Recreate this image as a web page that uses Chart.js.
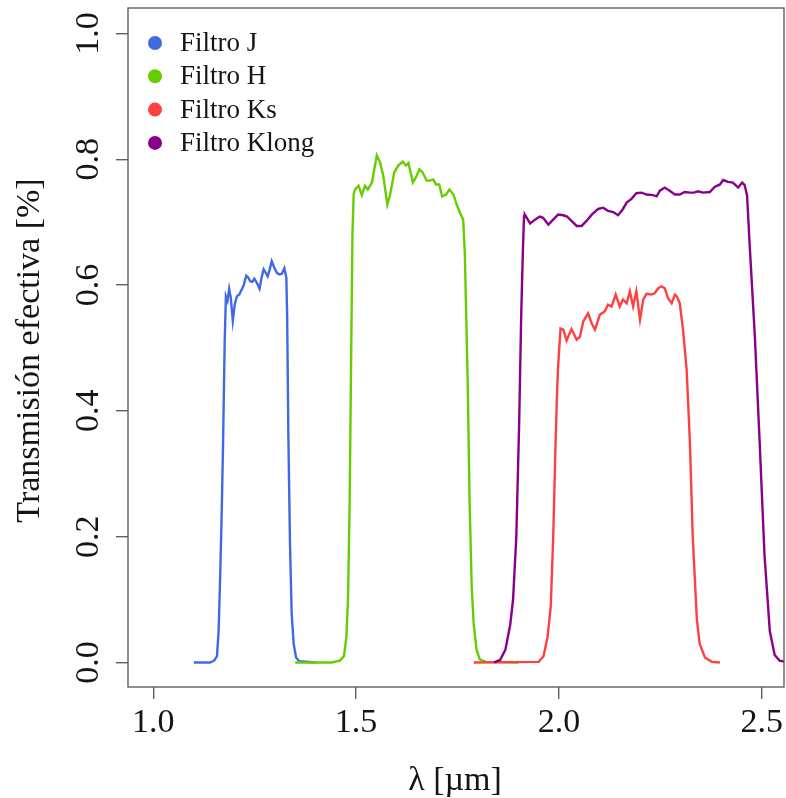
<!DOCTYPE html>
<html>
<head>
<meta charset="utf-8">
<script src="https://cdn.jsdelivr.net/npm/chart.js@4/dist/chart.umd.min.js"></script>
<style>
  html, body { margin: 0; padding: 0; background: #ffffff; }
  #wrap { width: 786px; height: 798px; position: relative; }
</style>
</head>
<body>
<div id="wrap"><canvas id="c" width="786" height="798"></canvas></div>
<script>
// ---- Data ----
const seriesNames = ['Filtro J', 'Filtro H', 'Filtro Ks', 'Filtro Klong'];
const seriesColors = ['#4169E1', '#66CD00', '#FF4040', '#8B008B'];

const jWave = [1.100,1.140,1.150,1.157,1.161,1.165,1.169,1.172,1.176,1.179,1.183,1.187,1.191,1.196,1.201,1.206,1.212,1.218,1.223,1.229,1.234,1.239,1.244,1.249,1.255,1.262,1.267,1.272,1.277,1.282,1.287,1.292,1.298,1.305,1.311,1.317,1.323,1.328,1.330,1.333,1.337,1.341,1.346,1.352,1.360,1.400];
const jTrans = [0.000,0.000,0.003,0.010,0.050,0.140,0.250,0.350,0.510,0.582,0.575,0.594,0.580,0.543,0.570,0.582,0.585,0.593,0.600,0.615,0.612,0.606,0.605,0.610,0.604,0.594,0.612,0.625,0.620,0.614,0.625,0.638,0.628,0.619,0.617,0.618,0.627,0.612,0.550,0.360,0.190,0.080,0.030,0.008,0.002,0.000];

const hWave = [1.350,1.440,1.460,1.470,1.476,1.480,1.484,1.488,1.491,1.494,1.4975,1.506,1.514,1.522,1.529,1.539,1.551,1.559,1.567,1.577,1.584,1.594,1.604,1.615,1.623,1.629,1.640,1.648,1.656,1.664,1.674,1.682,1.690,1.697,1.705,1.712,1.722,1.730,1.740,1.748,1.756,1.764,1.768,1.775,1.780,1.785,1.790,1.797,1.805,1.820,1.900];
const hTrans = [0.000,0.000,0.003,0.010,0.040,0.100,0.250,0.500,0.680,0.745,0.752,0.758,0.743,0.758,0.752,0.763,0.806,0.795,0.774,0.728,0.744,0.779,0.790,0.796,0.790,0.794,0.763,0.772,0.784,0.779,0.766,0.766,0.768,0.760,0.760,0.741,0.744,0.752,0.744,0.728,0.715,0.704,0.652,0.450,0.250,0.120,0.060,0.020,0.005,0.001,0.000];

const ksWave = [1.790,1.950,1.962,1.972,1.980,1.986,1.991,1.995,1.998,2.004,2.011,2.019,2.031,2.044,2.052,2.060,2.072,2.081,2.089,2.101,2.113,2.121,2.130,2.140,2.150,2.158,2.167,2.175,2.183,2.191,2.200,2.208,2.216,2.228,2.236,2.245,2.253,2.261,2.269,2.278,2.286,2.291,2.298,2.306,2.315,2.323,2.330,2.340,2.347,2.360,2.377,2.397];
const ksTrans = [0.000,0.001,0.010,0.040,0.090,0.200,0.330,0.420,0.470,0.531,0.529,0.512,0.530,0.513,0.518,0.542,0.555,0.539,0.529,0.553,0.558,0.569,0.566,0.585,0.566,0.577,0.571,0.590,0.566,0.590,0.545,0.577,0.586,0.585,0.587,0.595,0.598,0.595,0.579,0.571,0.585,0.582,0.571,0.529,0.465,0.350,0.200,0.070,0.030,0.008,0.001,0.000];

const klWave = [1.840,1.855,1.868,1.880,1.887,1.895,1.902,1.907,1.911,1.914,1.916,1.929,1.941,1.953,1.961,1.974,1.986,1.998,2.011,2.020,2.031,2.044,2.056,2.068,2.081,2.097,2.109,2.121,2.134,2.146,2.158,2.167,2.179,2.191,2.204,2.216,2.232,2.241,2.249,2.261,2.273,2.286,2.298,2.310,2.323,2.333,2.343,2.355,2.372,2.384,2.397,2.405,2.417,2.429,2.442,2.452,2.458,2.464,2.470,2.483,2.495,2.507,2.520,2.532,2.544,2.569];
const klTrans = [0.000,0.004,0.020,0.060,0.100,0.200,0.380,0.550,0.650,0.710,0.712,0.698,0.704,0.709,0.707,0.696,0.704,0.712,0.711,0.709,0.702,0.694,0.694,0.702,0.712,0.721,0.723,0.718,0.716,0.711,0.721,0.731,0.737,0.746,0.747,0.744,0.743,0.741,0.750,0.755,0.750,0.744,0.744,0.748,0.747,0.747,0.749,0.747,0.748,0.756,0.760,0.767,0.764,0.763,0.755,0.763,0.759,0.742,0.668,0.520,0.350,0.170,0.050,0.012,0.003,0.000];

const xTickValues = [1.0, 1.5, 2.0, 2.5];
const xTickLabels = ['1.0', '1.5', '2.0', '2.5'];
const yTickValues = [0.0, 0.2, 0.4, 0.6, 0.8, 1.0];
const yTickLabels = ['0.0', '0.2', '0.4', '0.6', '0.8', '1.0'];
const xTitle = 'λ [µm]';
const yTitle = 'Transmisión efectiva [%]';

// ---- Build datasets ----
const waves = [jWave, hWave, ksWave, klWave];
const trans = [jTrans, hTrans, ksTrans, klTrans];
const datasets = seriesNames.map((name, i) => ({
  label: name,
  data: waves[i].map((w, k) => ({ x: w, y: trans[i][k] })),
  borderColor: seriesColors[i],
  backgroundColor: seriesColors[i],
  borderWidth: 2.4,
  pointRadius: 0,
  tension: 0,
  fill: false,
  order: 4 - i
}));

const SERIF = '"Liberation Serif", "DejaVu Serif", serif';
const TEXT = '#151515';
const AXIS = '#606060';

const decorations = {
  id: 'decorations',
  afterDraw(chart) {
    const ctx = chart.ctx;
    const a = chart.chartArea;
    const xs = chart.scales.x, ys = chart.scales.y;
    ctx.save();
    // box
    ctx.strokeStyle = AXIS;
    ctx.lineWidth = 1.4;
    ctx.strokeRect(a.left, a.top, a.right - a.left, a.bottom - a.top);

    // x tick labels
    ctx.fillStyle = TEXT;
    ctx.font = '34px ' + SERIF;
    ctx.textAlign = 'center';
    ctx.textBaseline = 'alphabetic';
    xTickValues.forEach((v, i) => {
      ctx.fillText(xTickLabels[i], xs.getPixelForValue(v), 732);
    });
    // y tick labels (rotated)
    yTickValues.forEach((v, i) => {
      ctx.save();
      ctx.translate(98, ys.getPixelForValue(v));
      ctx.rotate(-Math.PI / 2);
      ctx.textAlign = 'center';
      ctx.textBaseline = 'alphabetic';
      ctx.fillText(yTickLabels[i], 0, 0);
      ctx.restore();
    });
    // x title
    ctx.textAlign = 'center';
    ctx.fillText(xTitle, (a.left + a.right) / 2 - 1, 790);
    // y title
    ctx.save();
    ctx.translate(39, (a.top + a.bottom) / 2 + 3);
    ctx.rotate(-Math.PI / 2);
    ctx.textAlign = 'center';
    ctx.fillText(yTitle, 0, 0);
    ctx.restore();

    // legend
    ctx.font = '27px ' + SERIF;
    ctx.textAlign = 'left';
    ctx.textBaseline = 'middle';
    seriesNames.forEach((name, i) => {
      const cy = 43 + i * 33.3;
      ctx.beginPath();
      ctx.fillStyle = seriesColors[i];
      ctx.arc(155, cy, 7, 0, Math.PI * 2);
      ctx.fill();
      ctx.fillStyle = TEXT;
      ctx.fillText(name, 180, cy + 1);
    });
    ctx.restore();
  }
};

new Chart(document.getElementById('c'), {
  type: 'line',
  data: { datasets },
  options: {
    responsive: false,
    animation: false,
    devicePixelRatio: 1,
    layout: { padding: { top: 8, right: 2, left: 0, bottom: 0 } },
    plugins: { legend: { display: false }, tooltip: { enabled: false } },
    scales: {
      x: {
        type: 'linear',
        min: 0.9376,
        max: 2.555,
        afterBuildTicks: s => { s.ticks = xTickValues.map(v => ({ value: v })); },
        afterFit: s => { s.height = 111; },
        grid: { drawOnChartArea: false, drawTicks: true, tickLength: 12, color: AXIS, lineWidth: 1.4 },
        border: { display: false },
        ticks: { display: false }
      },
      y: {
        type: 'linear',
        min: -0.039,
        max: 1.0405,
        afterBuildTicks: s => { s.ticks = yTickValues.map(v => ({ value: v })); },
        afterFit: s => { s.width = 128; },
        grid: { drawOnChartArea: false, drawTicks: true, tickLength: 12, color: AXIS, lineWidth: 1.4 },
        border: { display: false },
        ticks: { display: false }
      }
    }
  },
  plugins: [decorations]
});
</script>
</body>
</html>
